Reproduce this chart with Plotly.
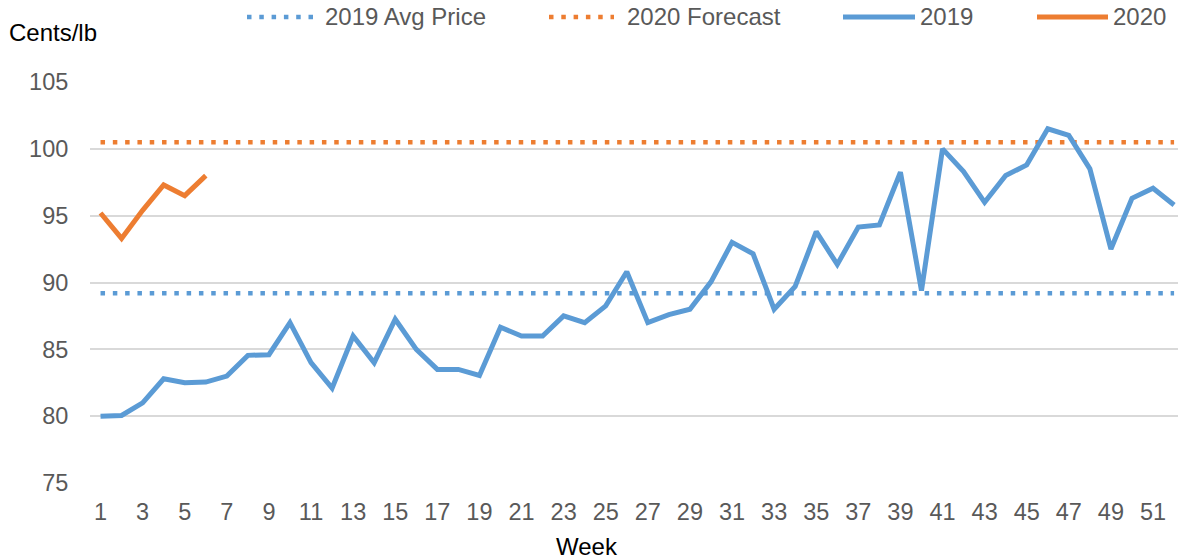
import plotly.graph_objects as go

# ---------------- data ----------------
weeks = list(range(1, 53))
price_2019 = [80.0, 80.05, 81.0, 82.8, 82.5, 82.55, 83.0, 84.55, 84.6, 87.0,
              84.0, 82.1, 86.0, 84.0, 87.25, 85.0, 83.5, 83.5, 83.05, 86.65,
              86.0, 86.0, 87.5, 87.0, 88.25, 90.8, 87.0, 87.6, 88.0, 90.05,
              93.0, 92.15, 88.0, 89.7, 93.8, 91.35, 94.15, 94.3, 98.25, 89.4,
              100.0, 98.3, 96.0, 98.0, 98.8, 101.5, 101.0, 98.5, 92.5, 96.3,
              97.05, 95.8]
weeks_2020 = [1, 2, 3, 4, 5, 6]
price_2020 = [95.2, 93.3, 95.4, 97.3, 96.5, 98.0]
avg_2019 = 89.2
forecast_2020 = 100.5
x_ticks = list(range(1, 52, 2))
y_ticks = [75, 80, 85, 90, 95, 100, 105]
series_names = ["2019 Avg Price", "2020 Forecast", "2019", "2020"]

# ---------------- style ----------------
BLUE = "#5B9BD5"
ORANGE = "#ED7D31"
GRID = "#D9D9D9"
TXT = "#595959"
FONT = "Liberation Sans, Arial, sans-serif"
FS_TICK = 23.5
FS_LEG = 24
W, H = 1178, 559
L, R, T, B = 90, 0, 82, 76
PW, PH = W - L - R, H - T - B
DOT = "4.5px,7.8px"


def px_x(p):
    return (p - L) / PW


def px_y(p):
    return (H - B - p) / PH


fig = go.Figure()
span = [weeks[0], weeks[-1]]
fig.add_trace(go.Scatter(x=span, y=[avg_2019, avg_2019], mode="lines",
                         name=series_names[0],
                         line=dict(color=BLUE, width=4.5, dash=DOT)))
fig.add_trace(go.Scatter(x=span, y=[forecast_2020, forecast_2020], mode="lines",
                         name=series_names[1],
                         line=dict(color=ORANGE, width=4.5, dash=DOT)))
fig.add_trace(go.Scatter(x=weeks, y=price_2019, mode="lines", name=series_names[2],
                         line=dict(color=BLUE, width=5)))
fig.add_trace(go.Scatter(x=weeks_2020, y=price_2020, mode="lines", name=series_names[3],
                         line=dict(color=ORANGE, width=5)))

# ---------------- custom legend (pixel-placed) ----------------
legend_items = [
    (247, 313, 323, BLUE, DOT, 4.5),
    (549, 614, 625, ORANGE, DOT, 4.5),
    (843, 915, 918, BLUE, "solid", 5),
    (1037, 1108, 1111, ORANGE, "solid", 5),
]
shapes = []
annotations = []
ly = 17
for (x0, x1, tx, col, dash, lw), name in zip(legend_items, series_names):
    shapes.append(dict(type="line", xref="paper", yref="paper",
                       x0=px_x(x0), x1=px_x(x1), y0=px_y(ly), y1=px_y(ly),
                       line=dict(color=col, width=lw, dash=dash)))
    annotations.append(dict(xref="paper", yref="paper", x=px_x(tx), y=px_y(ly - 1),
                            xanchor="left", yanchor="middle", showarrow=False,
                            text=name, font=dict(family=FONT, size=FS_LEG, color=TXT)))

annotations.append(dict(xref="paper", yref="paper", x=px_x(7), y=px_y(32),
                        xanchor="left", yanchor="middle", showarrow=False,
                        text="Cents/lb", font=dict(family=FONT, size=FS_LEG, color="#000000")))
annotations.append(dict(xref="paper", yref="paper", x=px_x(587), y=px_y(546),
                        xanchor="center", yanchor="middle", showarrow=False,
                        text="Week", font=dict(family=FONT, size=FS_LEG, color="#000000")))

fig.update_layout(
    width=W, height=H, autosize=False,
    margin=dict(l=L, r=R, t=T, b=B, pad=0),
    paper_bgcolor="white", plot_bgcolor="white",
    showlegend=False,
    font=dict(family=FONT, size=FS_TICK, color=TXT),
    shapes=shapes, annotations=annotations,
    xaxis=dict(range=[0.5, 0.5 + PW / 21.05], tickmode="array", tickvals=x_ticks,
               ticktext=[str(t) for t in x_ticks], showgrid=False, zeroline=False,
               showline=False, ticks="outside", ticklen=8,
               tickcolor="rgba(0,0,0,0)", tickfont=dict(family=FONT, size=FS_TICK, color=TXT)),
    yaxis=dict(range=[75, 105], tickmode="array", tickvals=y_ticks,
               showgrid=True, gridcolor=GRID, gridwidth=2, zeroline=False,
               showline=False, ticks="outside", ticklen=16,
               tickcolor="rgba(0,0,0,0)", tickfont=dict(family=FONT, size=FS_TICK, color=TXT)),
)

fig.write_html("out.html", config={"displayModeBar": False},
               post_script="document.body.style.margin='0';document.body.style.overflow='hidden';")
